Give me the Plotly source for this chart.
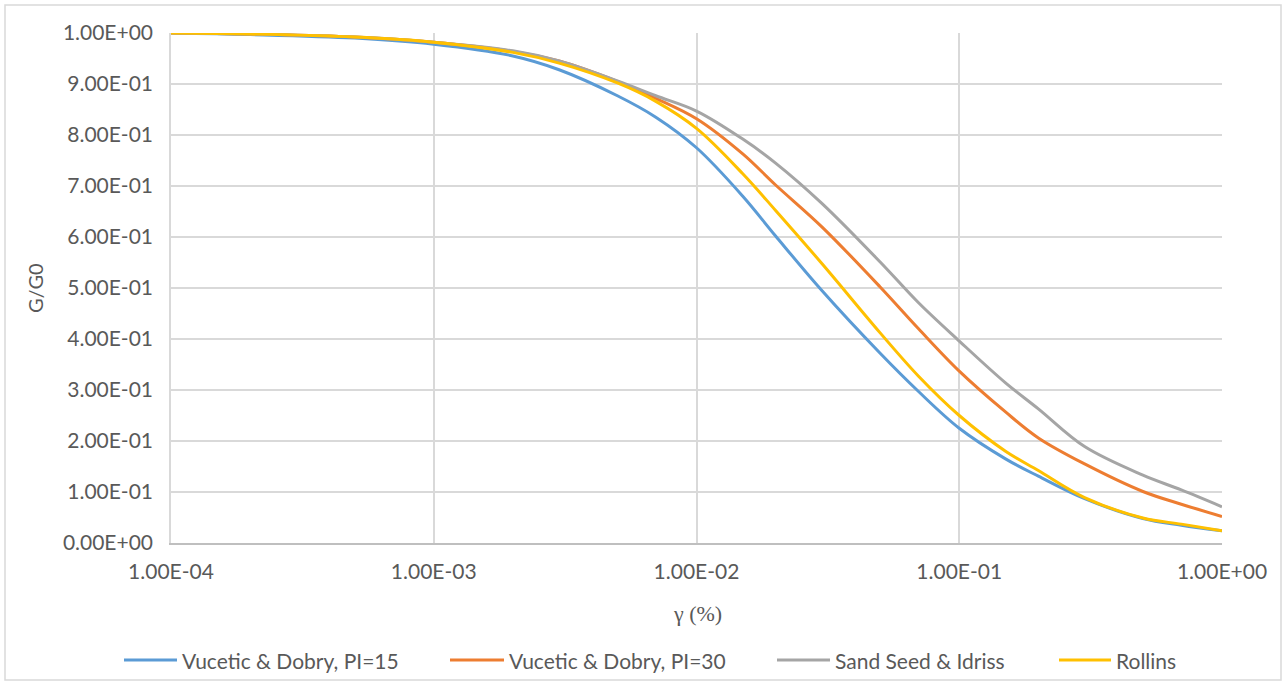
import plotly.graph_objects as go

# Shear strain (%) sample points
strain = [1e-4, 2e-4, 5e-4, 1e-3, 2e-3, 3e-3, 5e-3, 7e-3, 1e-2, 1.5e-2, 2e-2,
          3e-2, 5e-2, 7e-2, 0.1, 0.15, 0.2, 0.3, 0.5, 0.7, 1.0]

# Modulus reduction G/G0 for each model
vd_pi15 = [1.000, 0.997, 0.990, 0.978, 0.955, 0.928, 0.877, 0.835, 0.775, 0.680, 0.602,
           0.495, 0.372, 0.297, 0.225, 0.165, 0.131, 0.087, 0.048, 0.035, 0.024]
vd_pi30 = [1.000, 0.998, 0.992, 0.982, 0.964, 0.945, 0.905, 0.872, 0.832, 0.763, 0.702,
           0.620, 0.502, 0.420, 0.337, 0.257, 0.206, 0.155, 0.101, 0.076, 0.052]
seed_idriss = [1.000, 0.998, 0.992, 0.982, 0.965, 0.945, 0.906, 0.877, 0.847, 0.792, 0.745,
               0.666, 0.551, 0.471, 0.396, 0.314, 0.263, 0.189, 0.133, 0.104, 0.071]
rollins = [1.000, 0.998, 0.992, 0.982, 0.962, 0.941, 0.902, 0.866, 0.813, 0.724, 0.652,
           0.548, 0.412, 0.327, 0.250, 0.180, 0.142, 0.089, 0.049, 0.037, 0.024]

series_names = ["Vucetic & Dobry, PI=15", "Vucetic & Dobry, PI=30",
                "Sand Seed & Idriss", "Rollins"]
series_values = [vd_pi15, vd_pi30, seed_idriss, rollins]
series_colors = ["#5B9BD5", "#ED7D31", "#A5A5A5", "#FFC000"]

x_tickvals = [1e-4, 1e-3, 1e-2, 1e-1, 1.0]
x_ticktext = ["1.00E-04", "1.00E-03", "1.00E-02", "1.00E-01", "1.00E+00"]
y_tickvals = [i / 10 for i in range(11)]
y_ticktext = ["0.00E+00", "1.00E-01", "2.00E-01", "3.00E-01", "4.00E-01", "5.00E-01",
              "6.00E-01", "7.00E-01", "8.00E-01", "9.00E-01", "1.00E+00"]

W, H = 1285, 684
L, R, T, B = 171, 63, 33, 141
PW, PH = W - L - R, H - T - B

def px_x(p):
    return (p - L) / PW

def px_y(p):
    return (H - B - p) / PH

TICK_FONT = dict(family="Lato, Carlito, Calibri, sans-serif", size=21, color="#595959")

fig = go.Figure()
for name, vals, col in zip(series_names, series_values, series_colors):
    fig.add_trace(go.Scatter(
        x=strain, y=vals, name=name, mode="lines",
        line=dict(color=col, width=3, shape="spline", smoothing=1.0),
        showlegend=False,
    ))

fig.update_layout(
    width=W, height=H,
    margin=dict(l=L, r=R, t=T, b=B),
    paper_bgcolor="white", plot_bgcolor="white",
    xaxis=dict(
        type="log", range=[-4, 0], tickvals=x_tickvals, ticktext=x_ticktext,
        showgrid=True, gridcolor="#d9d9d9", gridwidth=1.5,
        showline=True, linecolor="#bfbfbf", linewidth=1.5, mirror=False,
        zeroline=False, ticks="", tickfont=TICK_FONT, ticklabelstandoff=9,
    ),
    yaxis=dict(
        range=[0, 1], tickvals=y_tickvals, ticktext=y_ticktext,
        showgrid=True, gridcolor="#d9d9d9", gridwidth=1.5,
        showline=True, linecolor="#d9d9d9", linewidth=1.5,
        zeroline=False, ticks="", tickfont=TICK_FONT, ticklabelstandoff=12,
    ),
)

annotations = [
    dict(text="γ (%)", x=px_x(697), y=px_y(613), xref="paper", yref="paper",
         showarrow=False, xanchor="center", yanchor="middle",
         font=dict(family="Liberation Serif, Times New Roman, serif", size=22, color="#595959")),
    dict(text="G/G0", x=px_x(35), y=px_y(288), xref="paper", yref="paper",
         showarrow=False, xanchor="center", yanchor="middle", textangle=-90,
         font=dict(family="Lato, Calibri, sans-serif", size=20, color="#595959")),
]

shapes = [
    # chart frame
    dict(type="rect", xref="paper", yref="paper",
         x0=px_x(5), x1=px_x(1281), y0=px_y(680), y1=px_y(5),
         line=dict(color="#d9d9d9", width=1.5), fillcolor="rgba(0,0,0,0)", layer="below"),
]

# legend row
legend_line_x = [(124, 177), (450, 504), (777, 830), (1059, 1111)]
legend_y = 660
for (x0, x1), name, col in zip(legend_line_x, series_names, series_colors):
    shapes.append(dict(type="line", xref="paper", yref="paper",
                       x0=px_x(x0), x1=px_x(x1), y0=px_y(legend_y), y1=px_y(legend_y),
                       line=dict(color=col, width=3)))
    annotations.append(dict(text=name, x=px_x(x1 + 3), y=px_y(legend_y),
                            xref="paper", yref="paper", showarrow=False,
                            xanchor="left", yanchor="middle", font=TICK_FONT))

fig.update_layout(annotations=annotations, shapes=shapes)

fig.write_html("out.html")
